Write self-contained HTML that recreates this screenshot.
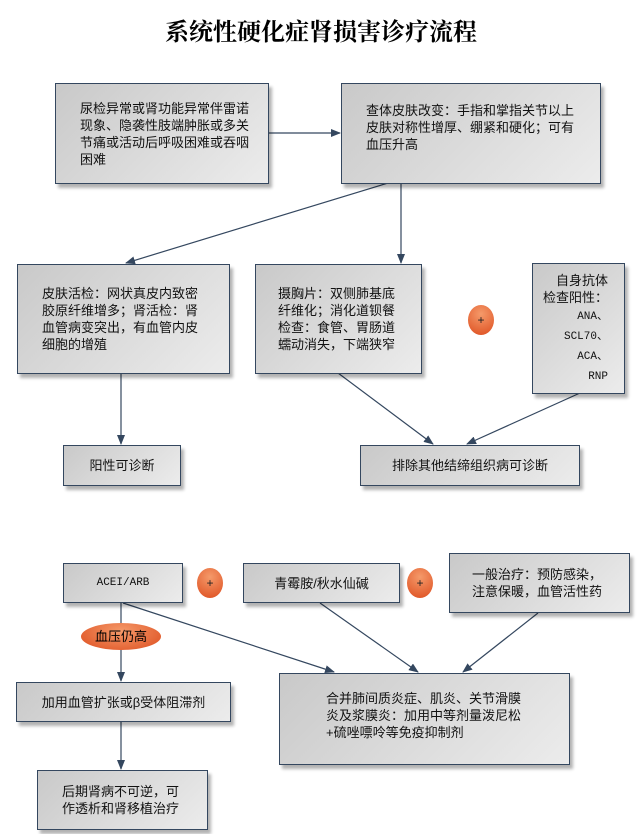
<!DOCTYPE html>
<html><head><meta charset="utf-8"><style>
body{margin:0;width:642px;height:834px;background:#fff;position:relative;overflow:hidden;font-family:"Liberation Sans","Noto Sans CJK SC",sans-serif;}
.b{position:absolute;box-sizing:border-box;border:1px solid #34475f;background:linear-gradient(135deg,#c9c9c9,#ececec);box-shadow:3px 4px 3px rgba(0,0,0,.3);font-size:13px;line-height:17px;color:#111;display:flex;align-items:center;white-space:nowrap;}
.b div{width:100%}
.t{position:absolute;left:0;width:642px;top:12px;text-align:center;font:bold 24px "Liberation Serif","Noto Serif CJK SC",serif;}
.p{position:absolute;width:26px;height:30px;border-radius:50%;background:radial-gradient(circle at 50% 30%,#f59a6a,#dd4d1e);color:#222;font-size:12px;text-align:center;line-height:30px;}
svg{position:absolute;left:0;top:0}
</style></head><body>
<div class="t">系统性硬化症肾损害诊疗流程</div>
<svg width="642" height="834"><defs><marker id="a" markerWidth="10" markerHeight="8" refX="9" refY="4" orient="auto" markerUnits="userSpaceOnUse"><path d="M0,0L10,4L0,8z" fill="#34475f"/></marker></defs>
<g stroke="#34475f" stroke-width="1.2" fill="none" marker-end="url(#a)">
<line x1="268" y1="133" x2="340" y2="133"/>
<line x1="388" y1="183" x2="126" y2="263"/>
<line x1="401" y1="183" x2="401" y2="263"/>
<line x1="121" y1="373" x2="121" y2="444"/>
<line x1="338" y1="373" x2="433" y2="444"/>
<line x1="580" y1="393" x2="467" y2="444"/>
<line x1="121" y1="603" x2="121" y2="681"/>
<line x1="123" y1="603" x2="334" y2="672"/>
<line x1="320" y1="603" x2="418" y2="672"/>
<line x1="538" y1="613" x2="463" y2="672"/>
<line x1="121" y1="722" x2="121" y2="769"/>
</g></svg>
<div class="b" style="left:55px;top:83px;width:214px;height:101px;padding-left:24px"><div>尿检异常或肾功能异常伴雷诺<br>现象、隐袭性肢端肿胀或多关<br>节痛或活动后呼吸困难或吞咽<br>困难</div></div>
<div class="b" style="left:341px;top:83px;width:260px;height:101px;padding-left:24px;padding-bottom:12px"><div>查体皮肤改变：手指和掌指关节以上<br>皮肤对称性增厚、绷紧和硬化；可有<br>血压升高</div></div>
<div class="b" style="left:17px;top:264px;width:213px;height:110px;padding-left:24px"><div>皮肤活检：网状真皮内致密<br>胶原纤维增多；肾活检：肾<br>血管病变突出，有血管内皮<br>细胞的增殖</div></div>
<div class="b" style="left:255px;top:264px;width:167px;height:110px;padding-left:22px"><div>摄胸片：双侧肺基底<br>纤维化；消化道钡餐<br>检查：食管、胃肠道<br>蠕动消失，下端狭窄</div></div>
<div class="b" style="left:532px;top:263px;width:93px;height:131px;line-height:17px"><div style="text-align:right;padding-right:16px">自身抗体<br>检查阳性：<br><span style="font-family:'Liberation Mono',monospace;font-size:11px">ANA、<br>SCL70、<br>ACA、<br>RNP</span></div></div>
<div class="p" style="left:468px;top:305px">+</div>
<div class="b" style="left:63px;top:445px;width:118px;height:41px"><div style="text-align:center">阳性可诊断</div></div>
<div class="b" style="left:360px;top:445px;width:220px;height:41px"><div style="text-align:center">排除其他结缔组织病可诊断</div></div>
<div class="b" style="left:63px;top:563px;width:120px;height:40px"><div style="text-align:center;font-family:'Liberation Mono',monospace;font-size:11px">ACEI/ARB</div></div>
<div class="p" style="left:197px;top:568px">+</div>
<div class="b" style="left:243px;top:563px;width:157px;height:40px"><div style="text-align:center">青霉胺/秋水仙碱</div></div>
<div class="p" style="left:407px;top:568px">+</div>
<div class="b" style="left:449px;top:553px;width:181px;height:60px;padding-left:22px"><div>一般治疗：预防感染，<br>注意保暖，血管活性药</div></div>
<div style="position:absolute;left:81px;top:623px;width:80px;height:27px;border-radius:50%;background:radial-gradient(ellipse at 50% 30%,#f59a6a,#dd4d1e);font-size:13px;text-align:center;line-height:27px">血压仍高</div>
<div class="b" style="left:16px;top:682px;width:215px;height:40px"><div style="text-align:center">加用血管扩张或β受体阻滞剂</div></div>
<div class="b" style="left:279px;top:673px;width:291px;height:92px;padding-left:46px;padding-bottom:8px"><div>合并肺间质炎症、肌炎、关节滑膜<br>炎及浆膜炎：加用中等剂量泼尼松<br>+硫唑嘌呤等免疫抑制剂</div></div>
<div class="b" style="left:37px;top:770px;width:171px;height:60px;padding-left:24px"><div>后期肾病不可逆，可<br>作透析和肾移植治疗</div></div>
</body></html>
